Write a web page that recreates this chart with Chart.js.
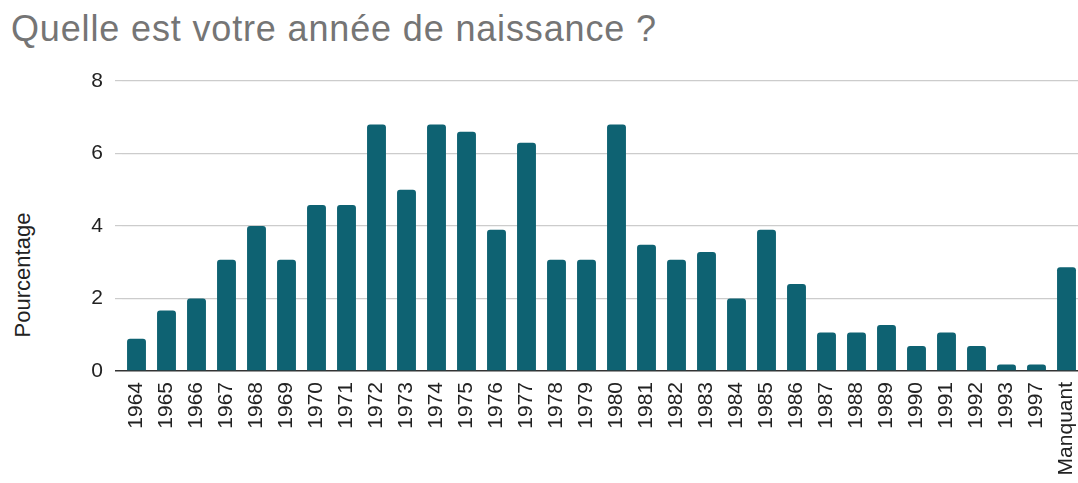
<!DOCTYPE html>
<html>
<head>
<meta charset="utf-8">
<script src="https://cdn.jsdelivr.net/npm/chart.js@4/dist/chart.umd.min.js"></script>
<style>
    body { margin: 0; overflow: hidden; background: #fff; width: 1078px; height: 483px; position: relative; }
    #chart { position: absolute; left: 0; top: 0; }
    .title { position: absolute; left: 11px; top: 11px; font: 36px/1 "Liberation Sans", Arial, sans-serif; letter-spacing: 0.85px;
             color: #757575; white-space: nowrap; }
    .ytitle { position: absolute; left: 23px; top: 275px; font: 22px/1 "Liberation Sans", Arial, sans-serif; color: #222;
              transform: translate(-50%, -50%) rotate(-90deg); white-space: nowrap; }
</style>
</head>
<body>
<div class="title">Quelle est votre année de naissance ?</div>
<div class="ytitle">Pourcentage</div>
<canvas id="chart" width="1082" height="483"></canvas>
<script>
// Data
const years = ['1964', '1965', '1966', '1967', '1968', '1969', '1970', '1971', '1972', '1973', '1974',
    '1975', '1976', '1977', '1978', '1979', '1980', '1981', '1982', '1983', '1984', '1985', '1986',
    '1987', '1988', '1989', '1990', '1991', '1992', '1993', '1997', 'Manquant'];
const percentages = [0.89, 1.67, 2.0, 3.07, 4.0, 3.07, 4.58, 4.58, 6.8, 5.0, 6.8,
    6.6, 3.9, 6.3, 3.07, 3.07, 6.8, 3.48, 3.07, 3.28, 2.0, 3.9, 2.4,
    1.06, 1.06, 1.27, 0.69, 1.06, 0.69, 0.18, 0.18, 2.86];
const yTicks = [0, 2, 4, 6, 8];

const family = '"Liberation Sans", Arial, sans-serif';

new Chart(document.getElementById('chart'), {
    type: 'bar',
    data: {
        labels: years,
        datasets: [{
            data: percentages,
            backgroundColor: '#0e6272',
            borderRadius: 3,
            borderSkipped: 'bottom',
            barPercentage: 0.63,
            categoryPercentage: 1
        }]
    },
    options: {
        responsive: false,
        animation: false,
        layout: { padding: { top: 81, right: 0.5, bottom: 0, left: 0 } },
        plugins: { legend: { display: false }, tooltip: { enabled: false } },
        scales: {
            x: {
                grid: { display: false },
                border: { display: false },
                ticks: { color: '#222', font: { family, size: 21 }, padding: 3, minRotation: 90, maxRotation: 90, autoSkip: false },
                afterFit: s => {
                    s.height = 112;
                    s.paddingLeft = 0;
                    s.paddingRight = 0;
                }
            },
            y: {
                min: yTicks[0],
                max: yTicks[yTicks.length - 1],
                afterBuildTicks: s => { s.ticks = yTicks.map(v => ({ value: v })); },
                border: { display: false },
                grid: {
                    color: c => c.tick && c.tick.value === 0 ? '#333' : '#cccccc',
                    lineWidth: c => c.tick && c.tick.value === 0 ? 1.5 : 1.2,
                    tickLength: 6.5,
                    drawTicks: true
                },
                ticks: { color: '#222', font: { family, size: 21 }, padding: 12 },
                afterFit: s => { s.width = 121.5; }
            }
        }
    }
});
</script>
</body>
</html>
